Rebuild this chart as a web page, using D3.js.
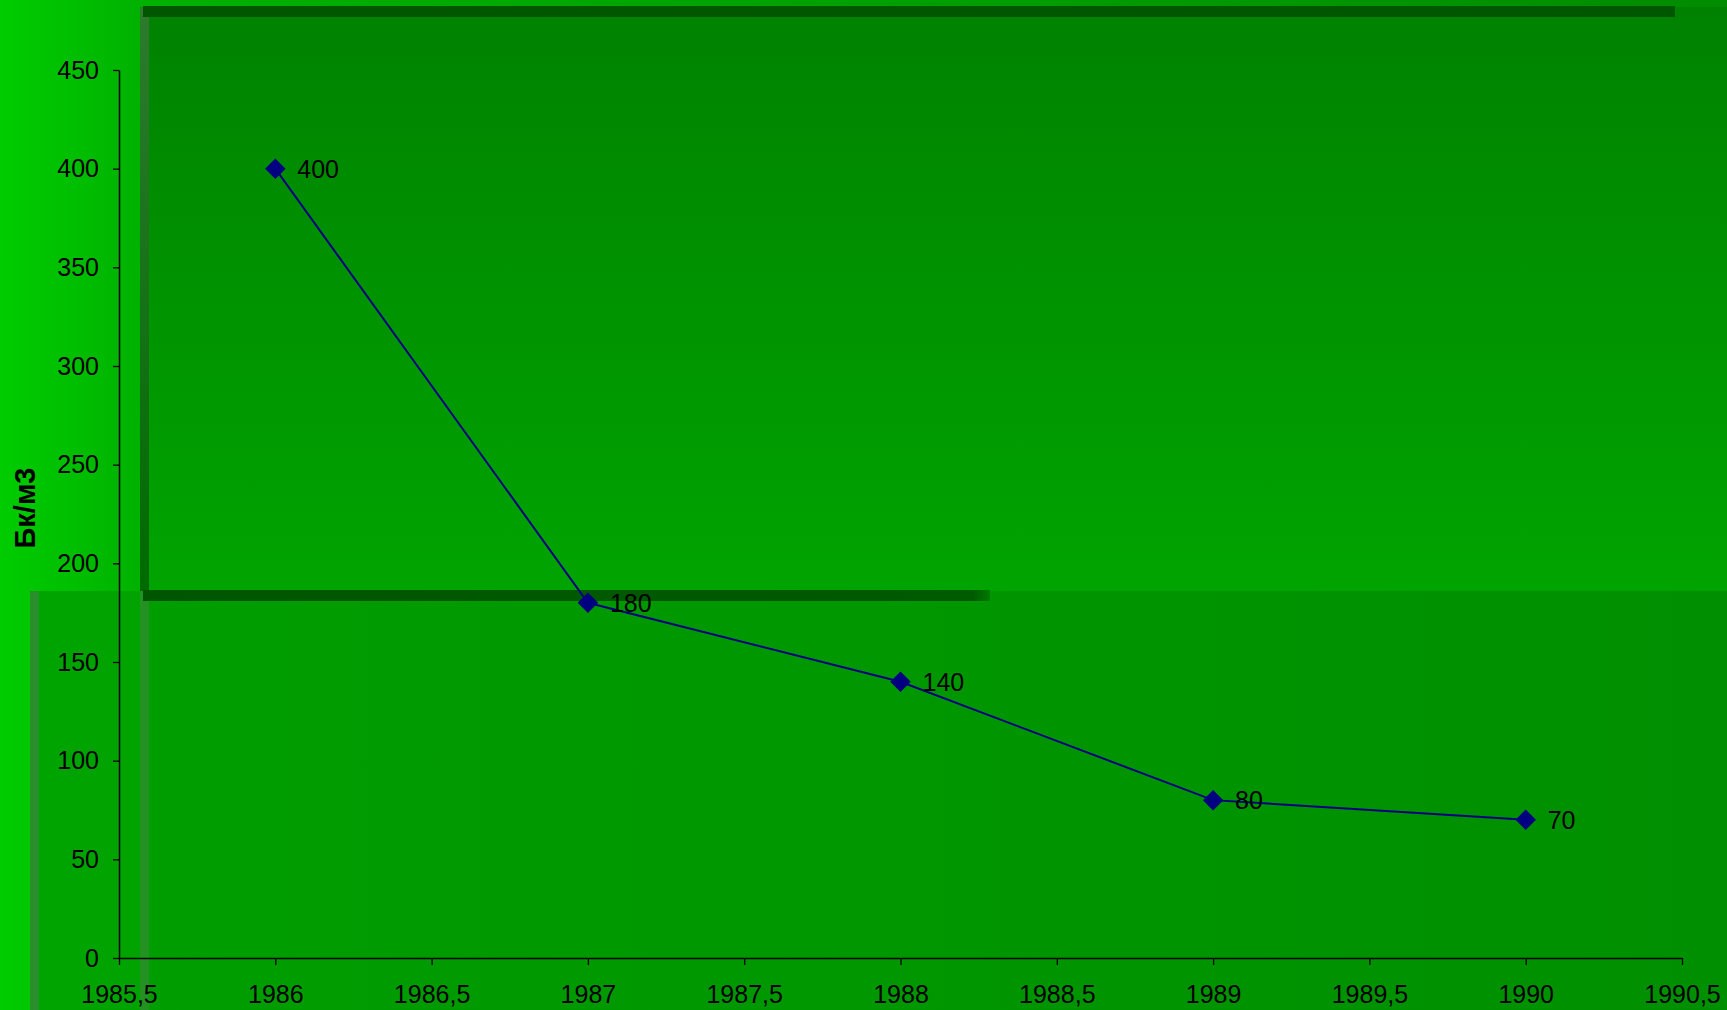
<!DOCTYPE html>
<html>
<head>
<meta charset="utf-8">
<script src="https://cdn.jsdelivr.net/npm/d3@7"></script>
<style>
  html, body { margin: 0; padding: 0; overflow: hidden; }
  body { width: 1727px; height: 1010px; }
  svg { display: block; font-family: "Liberation Sans", Arial, sans-serif; }
</style>
</head>
<body>
<div class="chart"></div>
<script>
(function() {

// data
var years = [1986, 1987, 1988, 1989, 1990];
var values = [400, 180, 140, 80, 70];
var yTicks = [0, 50, 100, 150, 200, 250, 300, 350, 400, 450];
var xTicks = [1985.5, 1986, 1986.5, 1987, 1987.5, 1988, 1988.5, 1989, 1989.5, 1990, 1990.5];
var yTitle = 'Бк/м3';

var W = 1727, H = 1010;
var margin = {left: 119, right: 45, top: 70, bottom: 52};

var svg = d3.select('.chart')
  .append('svg')
  .attr('width', W)
  .attr('height', H);

var defs = svg.append('defs');

// slide background
var bg = defs.append('linearGradient').attr('id', 'bg')
  .attr('x1', 0).attr('x2', 1).attr('y1', 0).attr('y2', 0);
bg.append('stop').attr('offset', '0%').attr('stop-color', '#00cc00');
bg.append('stop').attr('offset', '8%').attr('stop-color', '#00b200');
bg.append('stop').attr('offset', '100%').attr('stop-color', '#008c00');

var topPanel = defs.append('linearGradient').attr('id', 'topPanel')
  .attr('x1', 0).attr('x2', 0).attr('y1', 0).attr('y2', 1);
topPanel.append('stop').attr('offset', '0%').attr('stop-color', '#008200');
topPanel.append('stop').attr('offset', '100%').attr('stop-color', '#00a400');

var bottomPanel = defs.append('linearGradient').attr('id', 'bottomPanel')
  .attr('x1', 0).attr('x2', 1).attr('y1', 0).attr('y2', 0);
bottomPanel.append('stop').attr('offset', '0%').attr('stop-color', '#00a400');
bottomPanel.append('stop').attr('offset', '100%').attr('stop-color', '#009200');

var edge = defs.append('linearGradient').attr('id', 'edge')
  .attr('x1', 0).attr('x2', 0).attr('y1', 0).attr('y2', 1);
edge.append('stop').attr('offset', '0%').attr('stop-color', '#2e7a2e');
edge.append('stop').attr('offset', '100%').attr('stop-color', '#006a00');

var barFade = defs.append('linearGradient').attr('id', 'barFade')
  .attr('x1', 0).attr('x2', 1).attr('y1', 0).attr('y2', 0);
barFade.append('stop').attr('offset', '0%').attr('stop-color', '#005600');
barFade.append('stop').attr('offset', '98%').attr('stop-color', '#005a00');
barFade.append('stop').attr('offset', '100%').attr('stop-color', '#007a00');

svg.append('rect')
  .attr('width', W).attr('height', H)
  .attr('fill', 'url(#bg)');

// upper panel
svg.append('rect')
  .attr('x', 140).attr('y', 7)
  .attr('width', W - 140).attr('height', 585)
  .attr('fill', 'url(#topPanel)');
svg.append('rect')
  .attr('x', 140).attr('y', 7)
  .attr('width', 9).attr('height', 585)
  .attr('fill', 'url(#edge)');
svg.append('rect')
  .attr('x', 143).attr('y', 6)
  .attr('width', 1532).attr('height', 11)
  .attr('fill', '#005700');

// lower panel
svg.append('rect')
  .attr('x', 30).attr('y', 591)
  .attr('width', W - 30).attr('height', H - 591)
  .attr('fill', 'url(#bottomPanel)');
svg.append('rect')
  .attr('x', 30).attr('y', 591)
  .attr('width', 9).attr('height', H - 591)
  .attr('fill', '#2a8e2a');
svg.append('rect')
  .attr('x', 140).attr('y', 591)
  .attr('width', W - 140).attr('height', H - 591)
  .attr('fill', '#007e00')
  .attr('fill-opacity', 0.12);
svg.append('rect')
  .attr('x', 140).attr('y', 591)
  .attr('width', 9).attr('height', H - 591)
  .attr('fill', '#3a8a3a')
  .attr('fill-opacity', 0.6);
svg.append('rect')
  .attr('x', 143).attr('y', 590)
  .attr('width', 847).attr('height', 11)
  .attr('fill', 'url(#barFade)');

// scales
var x = d3.scaleLinear()
  .domain([1985.5, 1990.5])
  .range([margin.left, W - margin.right]);

var y = d3.scaleLinear()
  .domain([0, 450])
  .range([958, 70]);

var fmt = function(d) { return String(d).replace('.', ','); };

var xAxis = svg.append('g')
  .attr('transform', 'translate(0,' + y(0) + ')')
  .call(d3.axisBottom(x).tickValues(xTicks).tickFormat(fmt)
    .tickSize(7).tickSizeOuter(0).tickPadding(20));

var yAxis = svg.append('g')
  .attr('transform', 'translate(' + x(1985.5) + ',0)')
  .call(d3.axisLeft(y).tickValues(yTicks)
    .tickSize(6).tickSizeOuter(0).tickPadding(14));

[xAxis, yAxis].forEach(function(ax) {
  ax.select('.domain').attr('stroke', '#000').attr('stroke-width', 1.5);
  ax.selectAll('.tick line').attr('stroke', '#000').attr('stroke-width', 1.3);
  ax.selectAll('.tick text')
    .attr('fill', '#000')
    .style('font-size', '25px')
    .style('font-family', '"Liberation Sans", Arial, sans-serif');
});

svg.append('text')
  .attr('transform', 'translate(35,508) rotate(-90)')
  .attr('text-anchor', 'middle')
  .style('font-size', '29px')
  .style('font-weight', 'bold')
  .attr('fill', '#000')
  .text(yTitle);

// series
var data = years.map(function(d, i) { return {year: d, value: values[i]}; });

var line = d3.line()
  .x(function(d) { return x(d.year); })
  .y(function(d) { return y(d.value); });

svg.append('path')
  .datum(data)
  .attr('d', line)
  .attr('fill', 'none')
  .attr('stroke', '#000080')
  .attr('stroke-width', 2);

svg.selectAll('.marker').data(data).enter()
  .append('path')
  .attr('class', 'marker')
  .attr('d', d3.symbol().type(d3.symbolSquare).size(210))
  .attr('transform', function(d) {
    return 'translate(' + x(d.year) + ',' + y(d.value) + ') rotate(45)';
  })
  .attr('fill', '#000080');

svg.selectAll('.label').data(data).enter()
  .append('text')
  .attr('class', 'label')
  .attr('x', function(d) { return x(d.year) + 22; })
  .attr('y', function(d) { return y(d.value) + 9; })
  .style('font-size', '25px')
  .attr('fill', '#000')
  .text(function(d) { return d.value; });

})();
</script>
</body>
</html>
